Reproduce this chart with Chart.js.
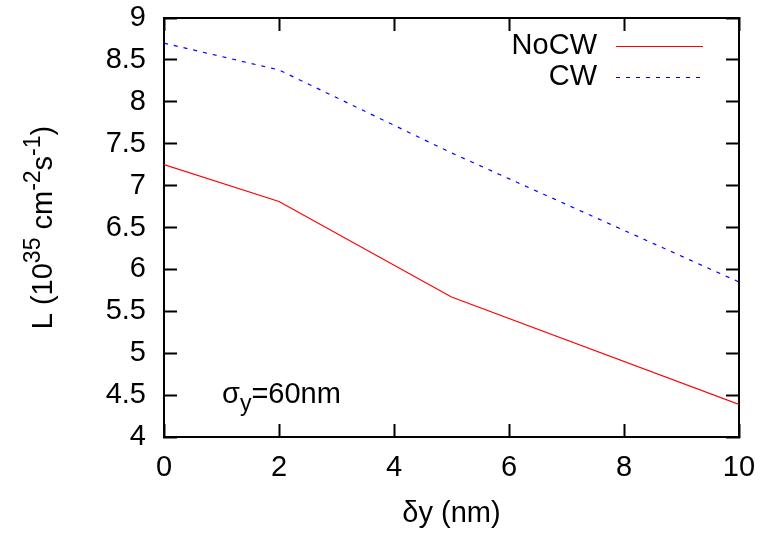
<!DOCTYPE html>
<html><head><meta charset="utf-8">
<script src="https://cdn.jsdelivr.net/npm/chart.js@4/dist/chart.umd.min.js"></script>
<style>html,body{margin:0;padding:0;background:#fff;}canvas{display:block}</style>
</head><body>
<canvas id="c" width="774" height="534"></canvas>
<script>
const xValues = [0, 2, 5, 10];
const noCW = [7.25, 6.81, 5.67, 4.39];
const cw = [8.70, 8.38, 7.39, 5.85];
const seriesLabels = ['NoCW', 'CW'];
const xTicks = [0, 2, 4, 6, 8, 10];
const yTicks = [4, 4.5, 5, 5.5, 6, 6.5, 7, 7.5, 8, 8.5, 9];
const xTitle = 'δy (nm)';
const annotation = ['σ', 'y', '=60nm'];
const yTitleParts = [['L (10', 0], ['35', 1], [' cm', 0], ['-2', 1], ['s', 0], ['-1', 1], [')', 0]];

const FONT = '"Liberation Sans", Arial, Helvetica, sans-serif';
const FS = 29, SFS = 23;
const TL = -13;

function drawTexts(chart) {
  const ctx = chart.ctx;
  const a = chart.chartArea;
  ctx.save();
  ctx.fillStyle = '#000';
  ctx.font = FS + 'px ' + FONT;
  ctx.textAlign = 'right';
  ctx.textBaseline = 'middle';
  const ds = chart.data.datasets;
  const legY = [46, 77];
  ds.forEach((d, i) => {
    ctx.fillText(d.label, 597, legY[i]);
    ctx.save();
    ctx.strokeStyle = d.borderColor;
    ctx.lineWidth = d.borderWidth;
    ctx.setLineDash(d.borderDash || []);
    ctx.beginPath();
    ctx.moveTo(616, legY[i] + 0.5);
    ctx.lineTo(703, legY[i] + 0.5);
    ctx.stroke();
    ctx.restore();
  });

  ctx.textAlign = 'center';
  ctx.textBaseline = 'alphabetic';
  ctx.font = FS + 'px ' + FONT;
  ctx.fillText(xTitle, (a.left + a.right) / 2, 522);

  ctx.textAlign = 'left';
  let x = 222;
  ctx.font = FS + 'px ' + FONT;
  ctx.fillText(annotation[0], x, 403);
  x += ctx.measureText(annotation[0]).width;
  ctx.font = SFS + 'px ' + FONT;
  ctx.fillText(annotation[1], x, 411);
  x += ctx.measureText(annotation[1]).width;
  ctx.font = FS + 'px ' + FONT;
  ctx.fillText(annotation[2], x, 403);

  let total = 0;
  yTitleParts.forEach(([t, s]) => {
    ctx.font = (s ? SFS : FS) + 'px ' + FONT;
    total += ctx.measureText(t).width;
  });
  ctx.translate(52, (a.top + a.bottom) / 2);
  ctx.rotate(-Math.PI / 2);
  let p = -total / 2;
  yTitleParts.forEach(([t, s]) => {
    ctx.font = (s ? SFS : FS) + 'px ' + FONT;
    ctx.fillText(t, p, s ? -12 : 0);
    p += ctx.measureText(t).width;
  });
  ctx.restore();
}

const textPlugin = {
  id: 'texts',
  afterDraw(chart) { drawTexts(chart); }
};

const gridOpts = { display: true, drawOnChartArea: false, drawTicks: true, tickLength: TL, tickWidth: 2, tickColor: '#000' };
const borderOpts = { display: true, color: '#000', width: 2 };

new Chart(document.getElementById('c').getContext('2d'), {
  type: 'line',
  data: {
    datasets: [
      { label: seriesLabels[0], data: xValues.map((x, i) => ({ x, y: noCW[i] })), borderColor: '#ff0000', borderWidth: 1.2, pointRadius: 0, fill: false, tension: 0, xAxisID: 'x', yAxisID: 'y' },
      { label: seriesLabels[1], data: xValues.map((x, i) => ({ x, y: cw[i] })), borderColor: '#0000ff', borderWidth: 1.2, borderDash: [4, 6], pointRadius: 0, fill: false, tension: 0, xAxisID: 'x', yAxisID: 'y' }
    ]
  },
  options: {
    responsive: false,
    animation: false,
    devicePixelRatio: 1,
    layout: { padding: { top: 18, right: 35, left: 0, bottom: 0 } },
    plugins: { legend: { display: false }, tooltip: { enabled: false } },
    scales: {
      x: {
        type: 'linear', position: 'bottom', min: 0, max: 10,
        afterBuildTicks: s => { s.ticks = xTicks.map(v => ({ value: v })); },
        ticks: { font: { family: FONT, size: FS }, color: '#000', padding: 14 - TL, maxRotation: 0, callback: v => String(v) },
        grid: gridOpts,
        border: borderOpts,
        afterFit: s => { s.height = 97; s.paddingLeft = 0; s.paddingRight = 0; }
      },
      x2: {
        type: 'linear', position: 'top', min: 0, max: 10,
        afterBuildTicks: s => { s.ticks = xTicks.map(v => ({ value: v })); },
        ticks: { display: false },
        grid: gridOpts,
        border: borderOpts,
        afterFit: s => { s.height = 0; s.paddingLeft = 0; s.paddingRight = 0; }
      },
      y: {
        type: 'linear', position: 'left', min: 4, max: 9,
        afterBuildTicks: s => { s.ticks = yTicks.map(v => ({ value: v })); },
        ticks: { font: { family: FONT, size: FS }, color: '#000', padding: 18 - TL, callback: v => String(v) },
        grid: gridOpts,
        border: borderOpts,
        afterFit: s => { s.width = 164; s.paddingTop = 0; s.paddingBottom = 0; }
      },
      y2: {
        type: 'linear', position: 'right', min: 4, max: 9,
        afterBuildTicks: s => { s.ticks = yTicks.map(v => ({ value: v })); },
        ticks: { display: false },
        grid: gridOpts,
        border: borderOpts,
        afterFit: s => { s.width = 0; s.paddingTop = 0; s.paddingBottom = 0; }
      }
    }
  },
  plugins: [textPlugin]
});
</script>
</body></html>
